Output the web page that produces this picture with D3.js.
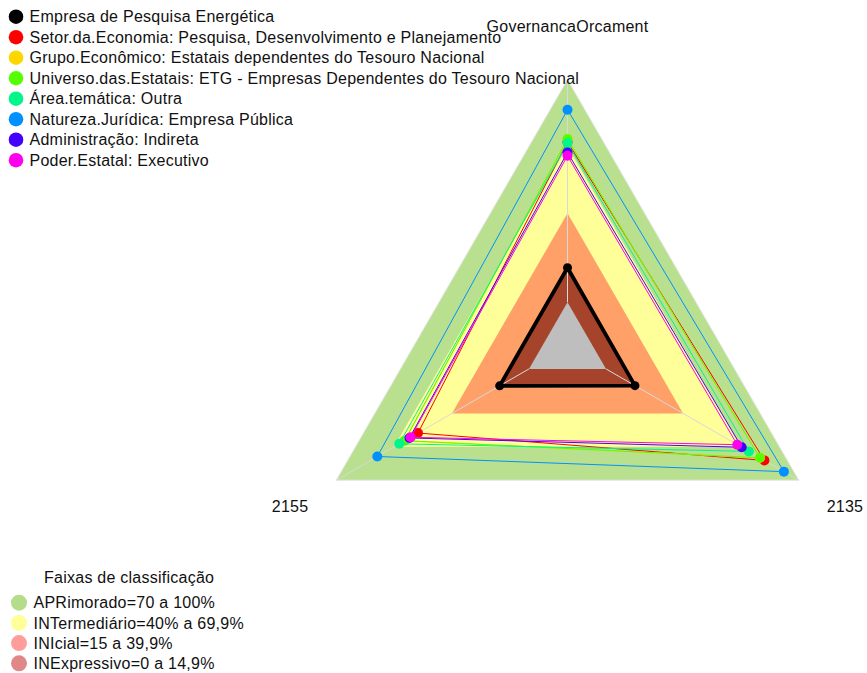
<!DOCTYPE html>
<html>
<head>
<meta charset="utf-8">
<script src="https://cdn.jsdelivr.net/npm/d3@7"></script>
<style>
  html, body { margin: 0; padding: 0; background: #ffffff; }
  svg { display: block; font-family: "Liberation Sans", Arial, sans-serif; }
  svg text { letter-spacing: 0.25px; }
</style>
</head>
<body>
<svg id="chart" width="867" height="673"></svg>
<script>
// Radar axes (first at top, then counter-clockwise)
const axes = ["GovernancaOrcament", "2155", "2135"];

// Series names and colours
const seriesNames = [
  "Empresa de Pesquisa Energética",
  "Setor.da.Economia: Pesquisa, Desenvolvimento e Planejamento",
  "Grupo.Econômico: Estatais dependentes do Tesouro Nacional",
  "Universo.das.Estatais: ETG - Empresas Dependentes do Tesouro Nacional",
  "Área.temática: Outra",
  "Natureza.Jurídica: Empresa Pública",
  "Administração: Indireta",
  "Poder.Estatal: Executivo"
];
const seriesColors = ["#000000", "#ff0000", "#ffd700", "#55ff00", "#00f58a", "#0090ff", "#4400ff", "#ff00ee"];

// Scores (%) per series, in axis order
const empresa       = [15.5, 15.2, 15.0];
const setor         = [72.0, 57.6, 82.2];
const grupo         = [73.3, 64.5, 79.9];
const universo      = [73.3, 64.5, 79.9];
const areaTematica  = [71.5, 67.3, 74.1];
const natureza      = [86.5, 78.7, 92.3];
const administracao = [67.3, 62.0, 70.4];
const poder         = [65.8, 61.4, 68.1];
const seriesValues = [empresa, setor, grupo, universo, areaTematica, natureza, administracao, poder];

// Classification bands (upper limit, %)
const bandLimits = [100, 70, 40, 15, 0];
const bandFills  = ["#b9e08e", "#ffff99", "#ffa068", "#a6432b", "#bebebe"];
const bandLabels = ["APRimorado=70 a 100%", "INTermediário=40% a 69,9%", "INIcial=15 a 39,9%", "INExpressivo=0 a 14,9%"];
const bandLegendColors = ["#b5dc8a", "#ffff99", "#ff9c9c", "#e08888"];
const bandLegendTitle = "Faixas de classificação";

const svg = d3.select("#chart");
const cx = 567.5, cy = 346.7, R = 267;
const fontSize = 16;

// radius: 0% sits at 1/6 of the full radius (centre gap), 100% at the rim
const r = d3.scaleLinear().domain([0, 100]).range([R / 6, R]);
const angle = i => -i * 2 * Math.PI / axes.length;

const g = svg.append("g").attr("transform", `translate(${cx},${cy})`);

const radial = d3.lineRadial()
  .angle((d, i) => angle(i))
  .radius(d => r(d))
  .curve(d3.curveLinearClosed);

// bands
g.selectAll("path.band")
  .data(bandLimits)
  .join("path")
  .attr("class", "band")
  .attr("d", v => radial(axes.map(() => v)))
  .attr("fill", (v, i) => bandFills[i])
  .attr("stroke", (v, i) => i === 0 ? "#e4e4e4" : "none")
  .attr("stroke-width", 1);

// axis spokes
g.selectAll("line.spoke")
  .data(axes)
  .join("line")
  .attr("class", "spoke")
  .attr("x1", (d, i) => d3.pointRadial(angle(i), r(0))[0])
  .attr("y1", (d, i) => d3.pointRadial(angle(i), r(0))[1])
  .attr("x2", (d, i) => d3.pointRadial(angle(i), r(100))[0])
  .attr("y2", (d, i) => d3.pointRadial(angle(i), r(100))[1])
  .attr("stroke", "#d9d9d9")
  .attr("stroke-width", 1);

// axis labels
g.selectAll("text.axis")
  .data(axes)
  .join("text")
  .attr("class", "axis")
  .attr("x", (d, i) => d3.pointRadial(angle(i), R * 1.2)[0])
  .attr("y", (d, i) => d3.pointRadial(angle(i), R * 1.2)[1])
  .attr("dy", "0.35em")
  .attr("text-anchor", "middle")
  .attr("font-size", fontSize)
  .attr("fill", "#111")
  .text(d => d);

// series polygons + points
seriesValues.forEach((vals, s) => {
  const sg = g.append("g");
  sg.append("path")
    .attr("d", radial(vals))
    .attr("fill", "none")
    .attr("stroke", seriesColors[s])
    .attr("stroke-width", s === 0 ? 3.8 : 1)
    .attr("stroke-linejoin", "round");
  sg.selectAll("circle")
    .data(vals)
    .join("circle")
    .attr("cx", (d, i) => d3.pointRadial(angle(i), r(d))[0])
    .attr("cy", (d, i) => d3.pointRadial(angle(i), r(d))[1])
    .attr("r", s === 0 ? 4.5 : 5)
    .attr("fill", seriesColors[s]);
});

// series legend (top-left)
const leg = svg.append("g");
seriesNames.forEach((name, i) => {
  const y = 16.7 + i * 20.5;
  leg.append("circle").attr("cx", 16).attr("cy", y).attr("r", 7.3).attr("fill", seriesColors[i]);
  leg.append("text").attr("x", 29.5).attr("y", y).attr("dy", "0.36em")
    .attr("font-size", fontSize).attr("fill", "#111").text(name);
});

// band legend (bottom-left)
const bleg = svg.append("g");
bleg.append("text").attr("x", 44).attr("y", 577).attr("dy", "0.36em")
  .attr("font-size", fontSize).attr("fill", "#111").text(bandLegendTitle);
bandLabels.forEach((name, i) => {
  const y = 602.7 + i * 20.2;
  bleg.append("circle").attr("cx", 19).attr("cy", y).attr("r", 8).attr("fill", bandLegendColors[i]);
  bleg.append("text").attr("x", 33.5).attr("y", y).attr("dy", "0.36em")
    .attr("font-size", fontSize).attr("fill", "#111").text(name);
});
</script>
</body>
</html>
